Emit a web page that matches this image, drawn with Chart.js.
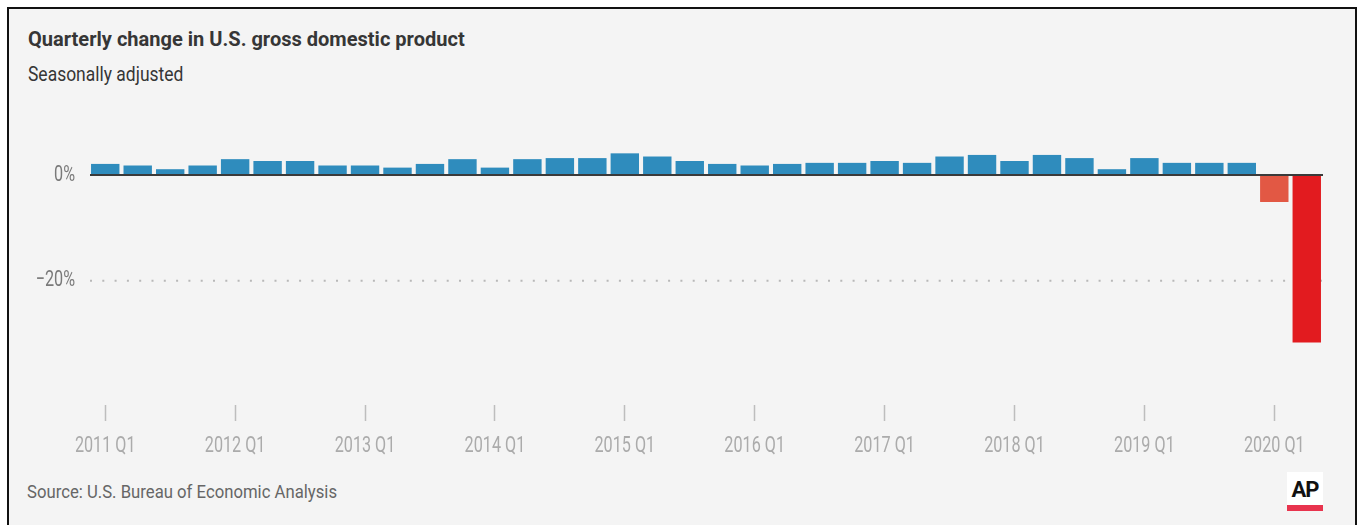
<!DOCTYPE html>
<html>
<head>
<meta charset="utf-8">
<script src="https://cdn.jsdelivr.net/npm/chart.js@4"></script>
<style>
  html, body { margin: 0; padding: 0; background: #fff; width: 1361px; height: 525px; overflow: hidden; }
  body { position: relative; font-family: Roboto, sans-serif; }
  .frame { position: absolute; left: 7px; top: 7px; width: 1346px; height: 540px; border: 2px solid #111; background: #f4f4f4; }
  .txt { position: absolute; white-space: nowrap; line-height: 1; transform-origin: 0 0; }
  .title { left: 28px; top: 29px; font-size: 21px; font-weight: bold; color: #363636; }
  .subtitle { left: 28px; top: 64.5px; font-size: 19.5px; color: #363636; }
  .source { left: 27px; top: 482.5px; font-size: 18px; color: #666; }
  .ap { position: absolute; left: 1287px; top: 472px; width: 36px; height: 33px; background: #fff; border-bottom: 6px solid #e8344e;
        font-weight: bold; font-size: 22px; color: #111; text-align: center; line-height: 35px; letter-spacing: -1px; }
  .chart-box { position: absolute; left: 0; top: 0; width: 1361px; height: 525px; }
</style>
</head>
<body>
<div class="frame"></div>
<div class="txt title" data-w="437">Quarterly change in U.S. gross domestic product</div>
<div class="txt subtitle" data-w="155">Seasonally adjusted</div>
<div class="txt source" data-w="310">Source: U.S. Bureau of Economic Analysis</div>
<div class="ap">AP</div>
<div class="chart-box"><canvas id="gdp-chart"></canvas></div>

<script>
/* Quarterly GDP change, 2011 Q1 – 2020 Q2 */

const YEARS = [2011, 2012, 2013, 2014, 2015, 2016, 2017, 2018, 2019, 2020];
const QUARTERS = ["Q1", "Q2", "Q3", "Q4"];

// percent change
const GDP_CHANGE = [
    2.1, 1.8, 1.1, 1.8,
    3.0, 2.65, 2.65, 1.8,
    1.8, 1.4, 2.1, 3.0,
    1.4, 3.0, 3.2, 3.2,
    4.1, 3.5, 2.65, 2.1,
    1.8, 2.1, 2.3, 2.3,
    2.65, 2.3, 3.5, 3.8,
    2.65, 3.8, 3.2, 1.1,
    3.2, 2.3, 2.3, 2.3,
    -5.1, -31.7,
];

const Y_TICKS = [-20, 0];
const Y_MIN = -43.5;
const Y_MAX = 14;

const BLUE = "#2f8cbd";
const ORANGE = "#e25844";
const RED = "#e21b1f";
const FONT = "Roboto, sans-serif";
const SQUEEZE = 0.72; // condensed look for canvas text

const labels = [];
YEARS.forEach((y) => QUARTERS.forEach((q) => labels.push(`${y} ${q}`)));
labels.length = GDP_CHANGE.length;

// squeeze the html texts to the condensed widths of the original
document.querySelectorAll(".txt").forEach((el) => {
    el.style.transform = `scaleX(${el.dataset.w / el.offsetWidth})`;
});

const canvas = document.getElementById("gdp-chart");
const ctx2d = canvas.getContext("2d");
const rawFillText = ctx2d.fillText.bind(ctx2d);
ctx2d.fillText = function (text, x, y, maxWidth) {
    this.save();
    this.translate(x, y);
    this.scale(SQUEEZE, 1);
    rawFillText(text, 0, 0, maxWidth);
    this.restore();
};

const refLines = {
    id: "refLines",
    beforeDatasetsDraw(chart) {
        const { ctx, chartArea, scales } = chart;
        const y = scales.y.getPixelForValue(-20);
        ctx.save();
        ctx.strokeStyle = "#b8b8b8";
        ctx.lineWidth = 2;
        ctx.setLineDash([2, 10.3]);
        ctx.beginPath();
        ctx.moveTo(chartArea.left + 1, y);
        ctx.lineTo(chartArea.right, y);
        ctx.stroke();
        ctx.restore();
    },
    afterDatasetsDraw(chart) {
        const { ctx, chartArea, scales } = chart;
        const y = scales.y.getPixelForValue(0);
        ctx.save();
        ctx.strokeStyle = "#3a3a3a";
        ctx.lineWidth = 2;
        ctx.beginPath();
        ctx.moveTo(chartArea.left + 1, y);
        ctx.lineTo(chartArea.right, y);
        ctx.stroke();
        ctx.restore();
    },
};

new Chart(canvas, {
    type: "bar",
    data: {
        labels,
        datasets: [{
            data: GDP_CHANGE,
            backgroundColor: (c) => c.raw >= 0 ? BLUE : (c.raw < -20 ? RED : ORANGE),
            categoryPercentage: 1,
            barPercentage: 0.875,
            borderWidth: 0,
        }],
    },
    options: {
        responsive: true,
        maintainAspectRatio: false,
        animation: false,
        layout: { padding: { top: 101, right: 38, bottom: 50, left: 0 } },
        scales: {
            x: {
                grid: {
                    offset: false,
                    drawOnChartArea: false,
                    tickLength: 16,
                    tickWidth: 1.5,
                    tickColor: (c) => c.index % 4 === 0 ? "#bdbdbd" : "rgba(0,0,0,0)",
                },
                border: { display: false },
                ticks: {
                    autoSkip: false,
                    maxRotation: 0,
                    padding: 12,
                    color: "#ababab",
                    font: { family: FONT, size: 22.5 },
                    callback: (v, i) => i % 4 === 0 ? labels[i] : "",
                },
                afterFit: (s) => { s.height = 70; },
            },
            y: {
                min: Y_MIN,
                max: Y_MAX,
                grid: { display: false },
                border: { display: false },
                afterBuildTicks: (s) => { s.ticks = Y_TICKS.map((v) => ({ value: v })); },
                ticks: {
                    padding: 6,
                    color: "#7a7a7a",
                    font: { family: FONT, size: 22.5 },
                    callback: (v) => v === 0 ? "0%" : `\u2212${Math.abs(v)}%`,
                },
                afterFit: (s) => { s.width = 89; },
            },
        },
        plugins: {
            legend: { display: false },
            tooltip: { enabled: false },
        },
    },
    plugins: [refLines],
});
</script>
</body>
</html>
